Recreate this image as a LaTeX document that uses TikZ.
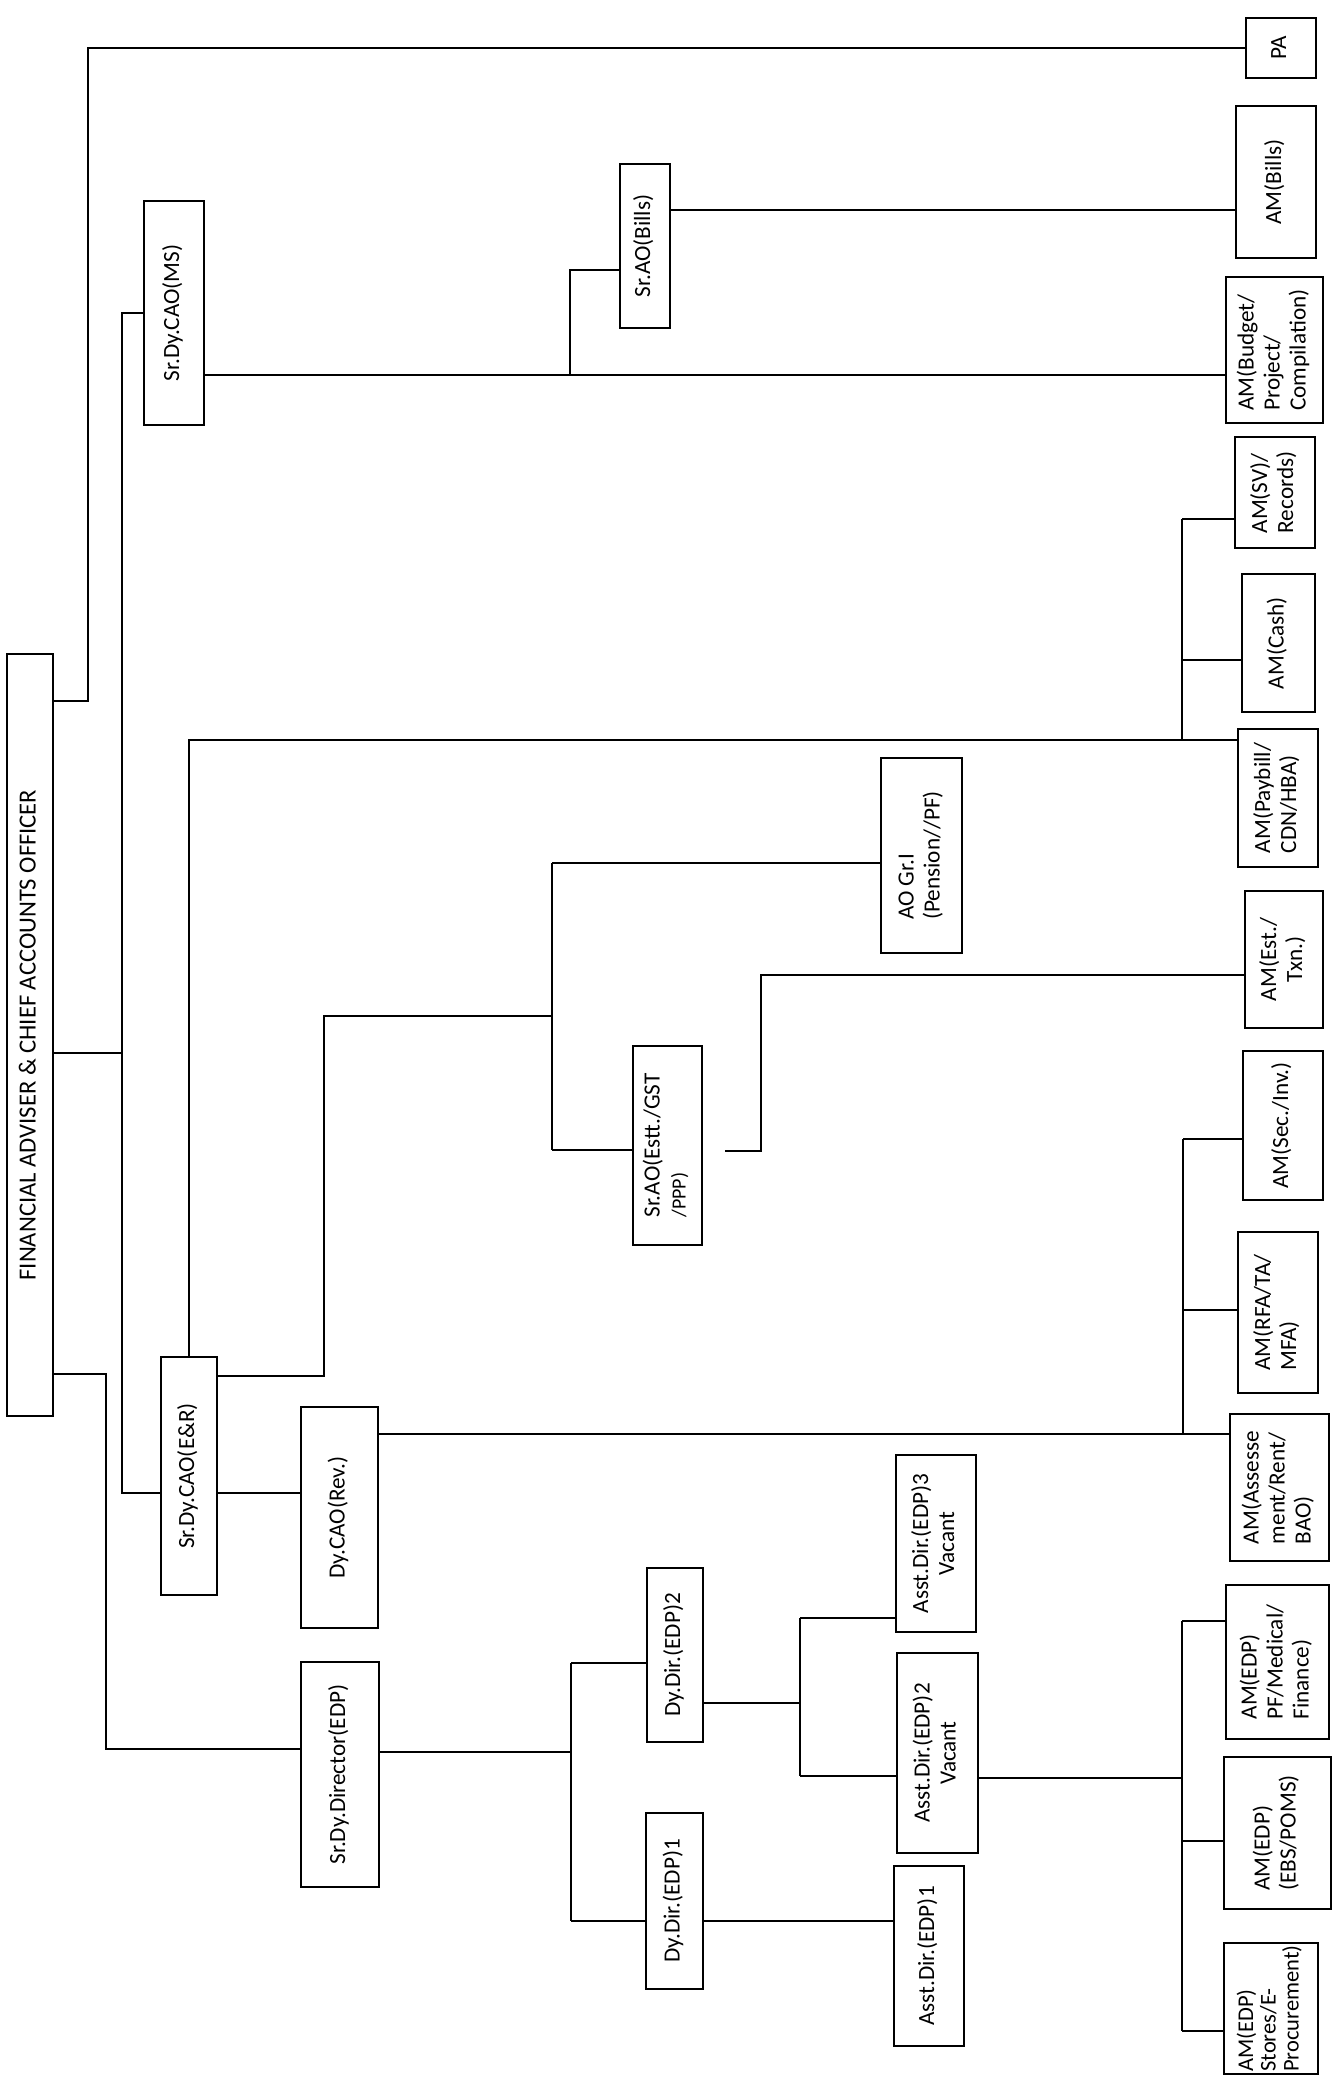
\documentclass[tikz,border=0pt]{standalone}
\usepackage{fontspec}
\setmainfont{Carlito}
\usepackage{graphicx}
\usetikzlibrary{positioning,calc}
\newcommand{\vtext}[2][l]{\rotatebox{90}{\begin{tabular}{@{}#1@{}}#2\end{tabular}}}

\begin{document}
\begin{tikzpicture}[x=0.01cm, y=-0.01cm,
    post/.style={draw, line width=0.6pt, inner sep=0pt, font=\fontsize{6.6}{7.4}\selectfont},
    link/.style={line width=0.6pt}]
        \useasboundingbox (0,0) rectangle (1337,2078);

        % Head and top level
        \node[post, minimum width=0.46cm, minimum height=7.62cm, font=\fontsize{7}{8}\selectfont] (fa) at (30,1035) {\vtext{FINANCIAL ADVISER \& CHIEF ACCOUNTS OFFICER}};
        \node[post, minimum width=0.70cm, minimum height=0.60cm] (pa) at (1281,48) {\vtext{PA}};
        \node[post, minimum width=0.60cm, minimum height=2.24cm] (ms) at (174,313) {\vtext{Sr.Dy.CAO(MS)}};
        \node[post, minimum width=0.56cm, minimum height=2.38cm] (er) at (189,1476) {\vtext{Sr.Dy.CAO(E\&R)}};
        \node[post, minimum width=0.78cm, minimum height=2.25cm] (dir) at (340,1774.5) {\vtext{Sr.Dy.Director(EDP)}};

        % MS wing
        \node[post, minimum width=0.50cm, minimum height=1.64cm] (aobills) at (645,246) {\vtext{Sr.AO(Bills)}};
        \node[post, minimum width=0.80cm, minimum height=1.52cm] (ambills) at (1276,182) {\vtext{AM(Bills)}};
        \node[post, minimum width=0.97cm, minimum height=1.46cm] (budget) at (1274.5,350) {\vtext{AM(Budget/\\Project/\\Compilation)}};

        % E&R wing
        \node[post, minimum width=0.80cm, minimum height=1.11cm] (sv) at (1275,492.5) {\vtext{AM(SV)/\\Records)}};
        \node[post, minimum width=0.73cm, minimum height=1.38cm] (cash) at (1278.5,643) {\vtext{AM(Cash)}};
        \node[post, minimum width=0.80cm, minimum height=1.38cm] (paybill) at (1278,798) {\vtext{AM(Paybill/\\CDN/HBA)}};
        \node[post, minimum width=0.81cm, minimum height=1.95cm] (aogr) at (921.5,855.5) {\vtext{AO Gr.I\\(Pension//PF)}};
        \node[post, minimum width=0.69cm, minimum height=1.99cm] (estt) at (667.5,1145.5) {\vtext{Sr.AO(Estt./GST\\{\fontsize{5.7}{6.5}\selectfont /PPP)}}};
        \node[post, minimum width=0.78cm, minimum height=1.37cm] (txn) at (1284,959.5) {\vtext[c]{AM(Est./\\Txn.)}};
        \node[post, minimum width=0.77cm, minimum height=2.21cm] (rev) at (339.5,1517.5) {\vtext{Dy.CAO(Rev.)}};
        \node[post, minimum width=0.80cm, minimum height=1.49cm] (sec) at (1283,1125.5) {\vtext{AM(Sec./Inv.)}};
        \node[post, minimum width=0.80cm, minimum height=1.61cm] (rfa) at (1278,1312.5) {\vtext{AM(RFA/TA/\\MFA)}};
        \node[post, minimum width=0.99cm, minimum height=1.47cm] (assess) at (1279.5,1487.5) {\vtext{AM(Assesse\\ment/Rent/\\BAO)}};

        % EDP wing
        \node[post, minimum width=0.56cm, minimum height=1.74cm] (dd2) at (675,1655) {\vtext{Dy.Dir.(EDP)2}};
        \node[post, minimum width=0.57cm, minimum height=1.76cm] (dd1) at (674.5,1901) {\vtext{Dy.Dir.(EDP)1}};
        \node[post, minimum width=0.80cm, minimum height=1.77cm] (ad3) at (936,1543.5) {\vtext[c]{Asst.Dir.(EDP)3\\Vacant}};
        \node[post, minimum width=0.81cm, minimum height=2.00cm] (ad2) at (937.5,1753) {\vtext[c]{Asst.Dir.(EDP)2\\Vacant}};
        \node[post, minimum width=0.70cm, minimum height=1.80cm] (ad1) at (929,1956) {\vtext{Asst.Dir.(EDP)1}};
        \node[post, minimum width=1.03cm, minimum height=1.54cm] (pf) at (1277.5,1662) {\vtext{AM(EDP)\\PF/Medical/\\Finance)}};
        \node[post, minimum width=1.07cm, minimum height=1.52cm] (ebs) at (1277.5,1833) {\vtext{AM(EDP)\\(EBS/POMS)}};
        \node[post, minimum width=0.94cm, minimum height=1.31cm, font=\fontsize{6.4}{6.4}\selectfont] (stores) at (1271,2008.5) {\vtext{AM(EDP)\\Stores/E-\\Procurement)}};

        % Junctions
        \coordinate (jpa) at (88,701);
        \coordinate (jms) at (122,1053);
        \coordinate (jer) at (122,1493);
        \coordinate (jdir) at (106,1374);
        \coordinate (jdir2) at (106,1749);
        \coordinate (jbud) at (570,375);
        \coordinate (jbil) at (570,270);
        \coordinate (jamb) at (1000,210);
        \coordinate (jsv) at (1182,519);
        \coordinate (jcash) at (1182,660);
        \coordinate (jpay) at (1182,740);
        \coordinate (jer1) at (324,1376);
        \coordinate (jer2) at (324,1016);
        \coordinate (jao) at (552,1016);
        \coordinate (jaog) at (552,863);
        \coordinate (jest) at (552,1150);
        \coordinate (jtx1) at (761,1151);
        \coordinate (jtx2) at (761,975);
        \coordinate (jass) at (1183,1434);
        \coordinate (jsec) at (1183,1139);
        \coordinate (jrfa) at (1183,1310);
        \coordinate (jdd) at (571,1752);
        \coordinate (jdd2) at (571,1663);
        \coordinate (jdd1) at (571,1921);
        \coordinate (jad) at (800,1703);
        \coordinate (jad3) at (800,1618);
        \coordinate (jad2) at (800,1776);
        \coordinate (jedp) at (1182,1778);
        \coordinate (jpf) at (1182,1621);
        \coordinate (jebs) at (1182,1841);
        \coordinate (jsto) at (1182,2031);

        % Connectors from the head
        \draw[link] (fa.east |- jpa) -- (jpa) |- (pa);
        \draw[link] (fa.east |- jms) -- (jms);
        \draw[link] (ms) -| (jer) -- (er.west |- jer);
        \draw[link] (fa.east |- jdir) -- (jdir) -- (jdir2) -- (dir.west |- jdir2);

        % MS connectors
        \draw[link] (ms.east |- jbud) -- (budget.west |- jbud);
        \draw[link] (jbud) -- (jbil) -- (aobills.west |- jbil);
        \draw[link] (aobills.east |- jamb) -- (ambills.west |- jamb);

        % E&R connectors
        \draw[link] (er.north) -- (er.north |- jpay) -- (paybill.west |- jpay);
        \draw[link] (jsv) -- (jpay);
        \draw[link] (jsv) -- (sv.west |- jsv);
        \draw[link] (jcash) -- (cash.west |- jcash);
        \draw[link] (er.east |- jer1) -- (jer1) -- (jer2) -- (jao);
        \draw[link] (jaog) -- (jest);
        \draw[link] (jaog) -- (aogr.west |- jaog);
        \draw[link] (jest) -- (estt.west |- jest);
        \draw[link, shorten <=0.22cm] (estt.east |- jtx1) -- (jtx1) -- (jtx2) -- (txn.west |- jtx2);
        \draw[link] (er.east |- jer) -- (rev.west |- jer);
        \draw[link] (rev.east |- jass) -- (assess.west |- jass);
        \draw[link] (jsec) -- (jass);
        \draw[link] (jsec) -- (sec.west |- jsec);
        \draw[link] (jrfa) -- (rfa.west |- jrfa);

        % EDP connectors
        \draw[link] (dir.east |- jdd) -- (jdd);
        \draw[link] (jdd2) -- (jdd1);
        \draw[link] (jdd2) -- (dd2.west |- jdd2);
        \draw[link] (jdd1) -- (dd1.west |- jdd1);
        \draw[link] (dd2.east |- jad) -- (jad);
        \draw[link] (jad3) -- (jad2);
        \draw[link] (jad3) -- (ad3.west |- jad3);
        \draw[link] (jad2) -- (ad2.west |- jad2);
        \draw[link] (dd1.east |- jdd1) -- (ad1.west |- jdd1);
        \draw[link] (ad2.east |- jedp) -- (jedp);
        \draw[link] (jpf) -- (jsto);
        \draw[link] (jpf) -- (pf.west |- jpf);
        \draw[link] (jebs) -- (ebs.west |- jebs);
        \draw[link] (jsto) -- (stores.west |- jsto);
    \end{tikzpicture}
\end{document}
